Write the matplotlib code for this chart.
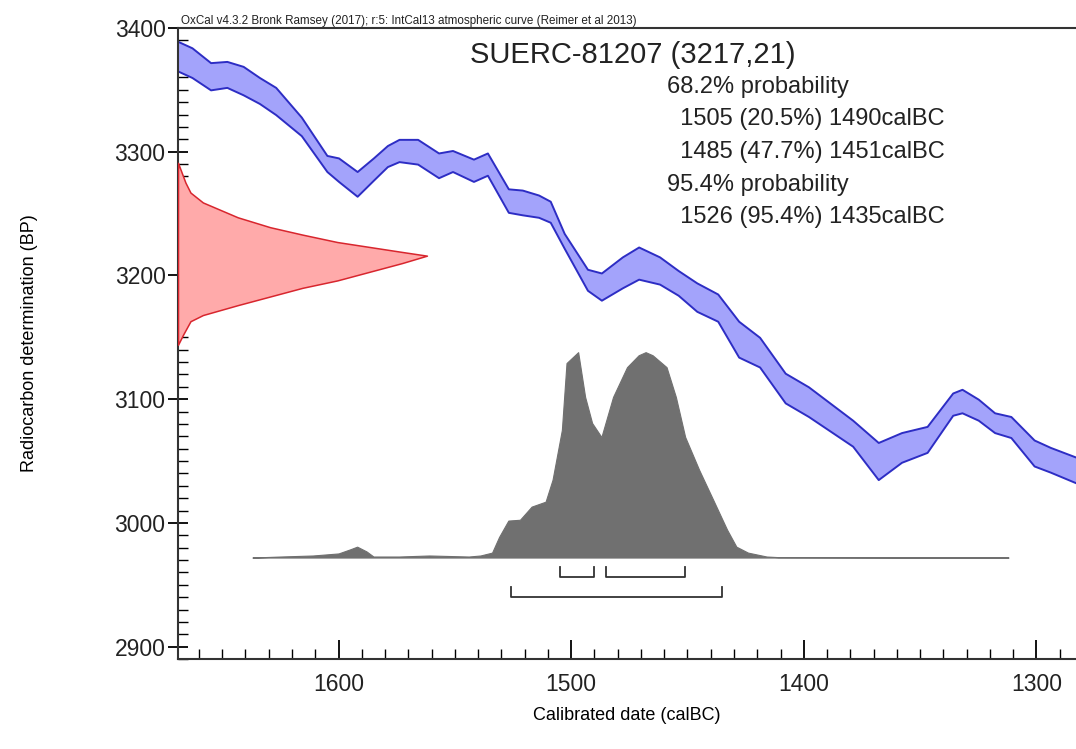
import matplotlib.pyplot as plt
import numpy as np
from matplotlib.ticker import MultipleLocator

plt.rcParams['font.family'] = ['Liberation Sans', 'DejaVu Sans']

# calibration curve (IntCal13), upper and lower edge of the band
cal_years = [1670, 1663, 1655, 1648, 1641, 1634, 1627, 1616, 1605, 1600, 1592, 1585,
             1579, 1574, 1566, 1557, 1551, 1542, 1536, 1527, 1521, 1514, 1509, 1503,
             1493, 1487, 1478, 1471, 1462, 1454, 1446, 1437, 1428, 1419, 1408, 1398,
             1379, 1368, 1358, 1347, 1336, 1332, 1325, 1318, 1311, 1301, 1294, 1280]
curve_upper = [3390, 3384, 3372, 3373, 3369, 3360, 3352, 3328, 3297, 3295, 3284, 3295,
               3305, 3310, 3310, 3299, 3301, 3294, 3299, 3270, 3269, 3265, 3260, 3234,
               3205, 3202, 3215, 3223, 3215, 3204, 3194, 3185, 3163, 3150, 3121, 3110,
               3083, 3065, 3073, 3078, 3105, 3108, 3100, 3089, 3086, 3067, 3061, 3051]
curve_lower = [3366, 3360, 3350, 3352, 3346, 3339, 3330, 3313, 3284, 3276, 3264, 3277,
               3288, 3292, 3290, 3279, 3284, 3276, 3281, 3251, 3249, 3247, 3243, 3222,
               3188, 3180, 3190, 3197, 3193, 3184, 3171, 3163, 3134, 3126, 3097, 3086,
               3062, 3035, 3049, 3057, 3087, 3089, 3083, 3073, 3069, 3046, 3041, 3030]

# radiocarbon measurement, drawn on the y axis (relative height)
c14_bp = [3291, 3275, 3267, 3259, 3247, 3239, 3233, 3227, 3223, 3219, 3216,
          3210, 3203, 3196, 3190, 3183, 3176, 3168, 3163, 3152, 3144]
c14_prob = [0.0, 0.03, 0.05, 0.10, 0.24, 0.37, 0.50, 0.64, 0.77, 0.90, 1.0,
            0.90, 0.77, 0.64, 0.50, 0.37, 0.24, 0.10, 0.05, 0.02, 0.0]

# calibrated probability distribution (relative)
post_years = [1637, 1625, 1611, 1600, 1595, 1592, 1588, 1585, 1574, 1561, 1544, 1539,
              1534, 1531, 1527, 1522, 1517, 1511, 1508, 1504, 1502, 1497, 1494, 1491,
              1487, 1482, 1476, 1471, 1468, 1465, 1459, 1455, 1451, 1445, 1439, 1433, 1429,
              1424, 1416, 1411, 1312]
post_prob = [0.0, 0.005, 0.01, 0.02, 0.04, 0.053, 0.03, 0.005, 0.005, 0.01, 0.005, 0.01,
             0.024, 0.1, 0.18, 0.184, 0.248, 0.272, 0.379, 0.621, 0.947, 1.0, 0.782, 0.655,
             0.587, 0.782, 0.927, 0.985, 1.0, 0.985, 0.927, 0.782, 0.587, 0.427, 0.282, 0.136, 0.053,
             0.024, 0.005, 0.002, 0.0]

ranges_68 = [(1505, 1490), (1485, 1451)]
ranges_95 = [(1526, 1435)]

title = 'SUERC-81207 (3217,21)'
info_lines = ['68.2% probability', '  1505 (20.5%) 1490calBC', '  1485 (47.7%) 1451calBC',
              '95.4% probability', '  1526 (95.4%) 1435calBC']

fig = plt.figure(figsize=(10.76, 7.49), dpi=100)
ax = fig.add_axes([178 / 1076, 1 - 659 / 749, 898 / 1076, 631 / 749])
x_left, x_right = 1669, 1283
ax.set_xlim(x_left, x_right)
ax.set_ylim(2890, 3400)

# curve band
ax.fill_between(cal_years, curve_lower, curve_upper, facecolor='#a3a3fb', edgecolor='#2d2dc4',
                linewidth=1.4, joinstyle='round', zorder=2)

# measurement on y axis
red_w = 107
ax.fill_betweenx(c14_bp, x_left, x_left - np.array(c14_prob) * red_w, facecolor='#ffaaaa',
                 edgecolor='#d8262e', linewidth=1.1, joinstyle='round', zorder=3)

# calibrated distribution
base = 2972
height = 166
ax.fill_between(post_years, base, base + np.array(post_prob) * height, facecolor='#707070',
                edgecolor='#707070', linewidth=0.8, joinstyle='round', zorder=4)

# range brackets
for rngs, yb in [(ranges_68, 2956), (ranges_95, 2940)]:
    for a, b in rngs:
        ax.plot([a, a, b, b], [yb + 8, yb, yb, yb + 8], color='#333333', lw=1.3, zorder=4)

ax.text(0.003, 1.001, 'OxCal v4.3.2 Bronk Ramsey (2017); r:5: IntCal13 atmospheric curve (Reimer et al 2013)',
        transform=ax.transAxes, fontsize=8.4, va='bottom', ha='left', color='#222222')
fig.text(470 / 1076, 1 - 55 / 749, title, fontsize=21, ha='left', va='center', color='#222222')
for i, line in enumerate(info_lines):
    fig.text(667 / 1076, 1 - (87 + i * 32.5) / 749, line, fontsize=17, ha='left', va='center',
             color='#222222')

ax.xaxis.set_major_locator(MultipleLocator(100))
ax.xaxis.set_minor_locator(MultipleLocator(10))
ax.yaxis.set_major_locator(MultipleLocator(100))
ax.yaxis.set_minor_locator(MultipleLocator(10))
ax.tick_params(axis='x', which='major', direction='in', length=14, width=1.3, labelsize=16.5,
               pad=10, labelcolor='#222222')
ax.tick_params(axis='x', which='minor', direction='in', length=7, width=1)
ax.tick_params(axis='y', which='major', direction='inout', length=14, width=1.3, labelsize=16.5,
               pad=2, labelcolor='#222222')
ax.tick_params(axis='y', which='minor', direction='in', length=7, width=1)
ax.spines['right'].set_visible(False)
for s in ['left', 'bottom', 'top']:
    ax.spines[s].set_linewidth(1.5)
    ax.spines[s].set_color('#333333')

fig.text(627 / 1076, 1 - 715 / 749, 'Calibrated date (calBC)', fontsize=13, ha='center', va='center')
fig.text(30 / 1076, 1 - 343 / 749, 'Radiocarbon determination (BP)', fontsize=13, ha='center',
         va='center', rotation=90)

plt.savefig('out.png', dpi=100)
